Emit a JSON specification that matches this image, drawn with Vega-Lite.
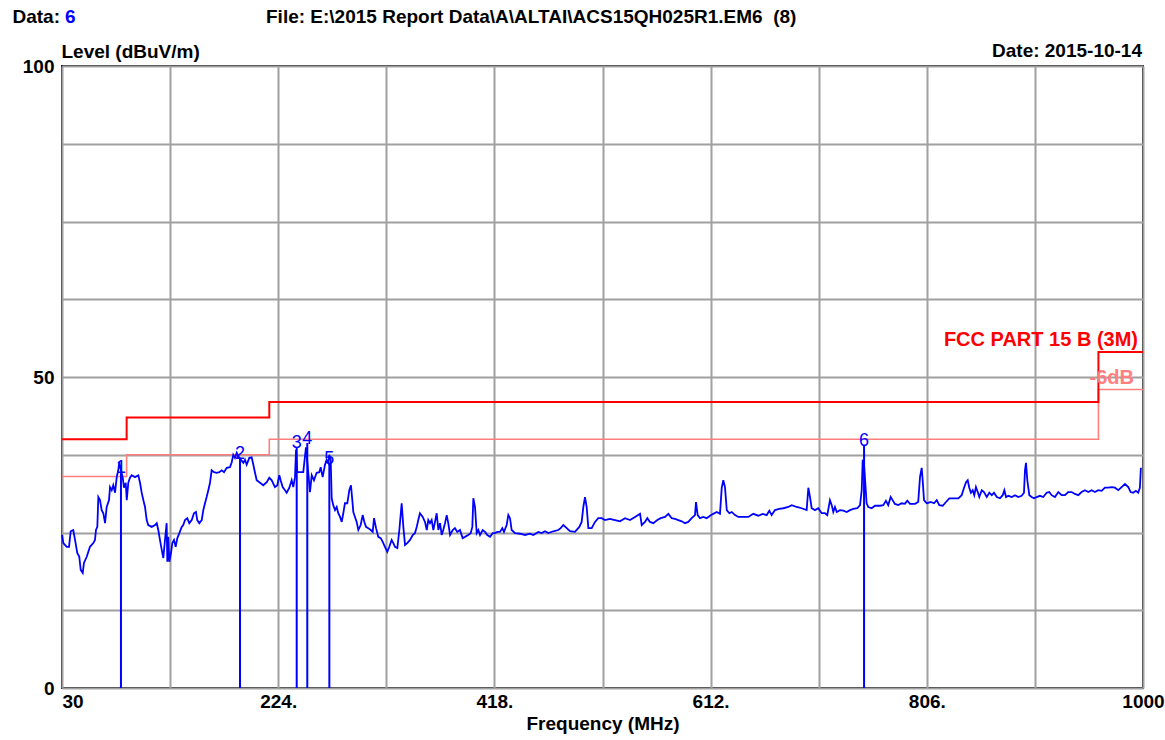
{
"$schema":"https://vega.github.io/schema/vega-lite/v6.json",
"width":1081,"height":622,
"autosize":{"type":"none"},
"padding":{"left":62,"top":66,"right":22,"bottom":52},
"background":"white",
"config":{"view":{"stroke":"#1a1a1a","strokeWidth":2},"font":"Liberation Sans","text":{"font":"Liberation Sans"}},
"datasets":{
"limit":[{"freq":30,"level":40},{"freq":88,"level":43.5},{"freq":216,"level":46},{"freq":960,"level":54},{"freq":1000,"level":54}],
"limit6":[{"freq":30,"level":34},{"freq":88,"level":37.5},{"freq":216,"level":40},{"freq":960,"level":48},{"freq":1000,"level":48}],
"markers":[{"id":"1","freq":82.9,"level":34.8},{"id":"2","freq":189.7,"level":37.0},{"id":"3","freq":240.6,"level":38.7},{"id":"4","freq":250.1,"level":39.4},{"id":"5","freq":269.9,"level":36.2},{"id":"6","freq":749.7,"level":39.1}],
"one":[{}],
"spectrum":[
{"freq":30.0,"level":24.6},{"freq":31.2,"level":23.3},{"freq":34.2,"level":22.7},{"freq":36.3,"level":22.7},{"freq":37.8,"level":25.2},{"freq":40.1,"level":25.4},{"freq":41.7,"level":23.8},{"freq":43.7,"level":21.7},{"freq":45.5,"level":21.1},{"freq":46.8,"level":19.0},{"freq":48.6,"level":18.5},{"freq":49.7,"level":20.1},{"freq":52.2,"level":21.1},{"freq":55.1,"level":22.7},{"freq":58.1,"level":23.3},{"freq":59.6,"level":23.8},{"freq":60.5,"level":25.4},{"freq":61.7,"level":25.9},{"freq":62.6,"level":30.7},{"freq":64.1,"level":30.2},{"freq":65.6,"level":28.6},{"freq":67.1,"level":28.1},{"freq":68.6,"level":26.5},{"freq":70.1,"level":29.1},{"freq":72.2,"level":30.2},{"freq":73.1,"level":32.3},{"freq":74.6,"level":31.8},{"freq":76.0,"level":32.6},{"freq":77.6,"level":31.4},{"freq":79.1,"level":33.9},{"freq":80.5,"level":35.0},{"freq":81.4,"level":36.3},{"freq":82.9,"level":35.0},{"freq":84.5,"level":33.8},{"freq":85.6,"level":32.2},{"freq":87.2,"level":33.0},{"freq":88.1,"level":30.2},{"freq":89.5,"level":33.0},{"freq":91.0,"level":33.8},{"freq":92.5,"level":34.2},{"freq":95.5,"level":33.9},{"freq":98.5,"level":34.2},{"freq":100.0,"level":33.0},{"freq":101.5,"level":31.4},{"freq":103.0,"level":30.2},{"freq":104.5,"level":29.1},{"freq":106.0,"level":27.0},{"freq":107.4,"level":26.2},{"freq":110.5,"level":25.9},{"freq":113.5,"level":26.2},{"freq":115.0,"level":26.5},{"freq":116.4,"level":25.4},{"freq":117.9,"level":23.8},{"freq":119.5,"level":22.2},{"freq":120.9,"level":20.9},{"freq":122.4,"level":23.8},{"freq":123.9,"level":26.5},{"freq":124.5,"level":20.3},{"freq":125.4,"level":24.3},{"freq":126.3,"level":20.3},{"freq":127.8,"level":21.7},{"freq":129.0,"level":23.3},{"freq":130.5,"level":23.8},{"freq":132.0,"level":22.7},{"freq":133.5,"level":24.1},{"freq":135.3,"level":24.9},{"freq":137.4,"level":25.9},{"freq":138.8,"level":26.2},{"freq":140.4,"level":27.0},{"freq":142.4,"level":27.3},{"freq":144.2,"level":26.5},{"freq":146.4,"level":27.0},{"freq":148.4,"level":28.1},{"freq":150.2,"level":28.3},{"freq":151.4,"level":27.0},{"freq":153.2,"level":26.5},{"freq":155.4,"level":27.0},{"freq":156.8,"level":28.6},{"freq":158.3,"level":29.7},{"freq":159.8,"level":30.7},{"freq":161.3,"level":31.8},{"freq":162.8,"level":33.0},{"freq":164.3,"level":35.0},{"freq":166.4,"level":34.7},{"freq":168.8,"level":34.6},{"freq":171.1,"level":34.7},{"freq":173.3,"level":35.0},{"freq":175.4,"level":34.7},{"freq":177.8,"level":35.4},{"freq":180.7,"level":35.5},{"freq":182.3,"level":36.3},{"freq":183.7,"level":37.5},{"freq":185.2,"level":37.0},{"freq":186.8,"level":37.8},{"freq":188.8,"level":37.1},{"freq":190.6,"level":36.7},{"freq":192.7,"level":36.2},{"freq":194.2,"level":36.7},{"freq":195.7,"level":35.9},{"freq":198.1,"level":37.0},{"freq":200.2,"level":37.1},{"freq":201.7,"level":35.9},{"freq":203.2,"level":34.6},{"freq":204.7,"level":33.4},{"freq":207.7,"level":33.0},{"freq":210.6,"level":32.6},{"freq":213.7,"level":33.1},{"freq":216.0,"level":33.8},{"freq":218.2,"level":33.4},{"freq":221.1,"level":32.3},{"freq":223.2,"level":32.6},{"freq":225.0,"level":34.2},{"freq":226.2,"level":33.4},{"freq":228.0,"level":32.3},{"freq":230.1,"level":31.8},{"freq":231.6,"level":31.4},{"freq":234.0,"level":32.2},{"freq":236.1,"level":33.4},{"freq":237.5,"level":32.3},{"freq":239.1,"level":33.9},{"freq":240.0,"level":38.3},{"freq":241.1,"level":34.7},{"freq":242.9,"level":34.7},{"freq":246.5,"level":34.7},{"freq":248.9,"level":38.7},{"freq":251.0,"level":34.6},{"freq":252.5,"level":31.5},{"freq":254.1,"level":34.2},{"freq":256.1,"level":33.4},{"freq":258.5,"level":34.6},{"freq":260.9,"level":34.7},{"freq":262.1,"level":35.5},{"freq":263.9,"level":33.9},{"freq":266.0,"level":35.9},{"freq":267.5,"level":36.7},{"freq":269.0,"level":36.2},{"freq":269.8,"level":37.5},{"freq":271.1,"level":36.7},{"freq":272.0,"level":30.5},{"freq":273.4,"level":29.4},{"freq":275.0,"level":28.6},{"freq":276.5,"level":29.1},{"freq":277.9,"level":28.1},{"freq":279.5,"level":27.5},{"freq":281.0,"level":26.7},{"freq":282.4,"level":28.1},{"freq":283.9,"level":29.7},{"freq":286.0,"level":29.7},{"freq":287.8,"level":31.8},{"freq":289.3,"level":32.6},{"freq":290.5,"level":30.2},{"freq":291.4,"level":28.3},{"freq":292.9,"level":27.5},{"freq":294.4,"level":26.7},{"freq":295.9,"level":25.4},{"freq":298.0,"level":26.2},{"freq":299.8,"level":27.8},{"freq":301.3,"level":26.7},{"freq":302.8,"level":25.9},{"freq":304.8,"level":25.7},{"freq":307.0,"level":25.4},{"freq":308.8,"level":25.1},{"freq":310.0,"level":27.3},{"freq":311.8,"level":25.7},{"freq":313.8,"level":24.3},{"freq":316.0,"level":24.1},{"freq":317.8,"level":23.5},{"freq":319.8,"level":22.7},{"freq":321.9,"level":21.9},{"freq":323.7,"level":22.7},{"freq":325.8,"level":23.8},{"freq":327.3,"level":23.3},{"freq":328.8,"level":22.7},{"freq":330.9,"level":22.5},{"freq":332.7,"level":25.4},{"freq":334.8,"level":29.7},{"freq":336.3,"level":25.9},{"freq":337.8,"level":23.0},{"freq":339.8,"level":23.3},{"freq":342.3,"level":23.8},{"freq":344.7,"level":24.6},{"freq":346.7,"level":24.9},{"freq":348.3,"level":25.9},{"freq":349.7,"level":27.0},{"freq":351.2,"level":28.1},{"freq":353.7,"level":27.5},{"freq":355.7,"level":26.7},{"freq":357.3,"level":25.4},{"freq":358.7,"level":27.0},{"freq":360.2,"level":26.5},{"freq":361.7,"level":27.0},{"freq":363.2,"level":25.4},{"freq":364.7,"level":26.7},{"freq":366.2,"level":28.1},{"freq":367.7,"level":25.4},{"freq":369.2,"level":26.5},{"freq":370.7,"level":24.6},{"freq":372.1,"level":25.4},{"freq":373.7,"level":26.5},{"freq":375.2,"level":27.8},{"freq":376.6,"level":26.5},{"freq":378.2,"level":24.6},{"freq":380.6,"level":25.4},{"freq":382.6,"level":25.7},{"freq":384.7,"level":25.1},{"freq":387.1,"level":25.4},{"freq":389.5,"level":24.1},{"freq":391.6,"level":24.3},{"freq":394.5,"level":24.6},{"freq":396.7,"level":24.9},{"freq":398.2,"level":25.9},{"freq":399.1,"level":30.5},{"freq":400.6,"level":29.1},{"freq":402.1,"level":24.9},{"freq":403.6,"level":25.4},{"freq":405.1,"level":24.6},{"freq":407.5,"level":25.4},{"freq":409.6,"level":25.1},{"freq":411.6,"level":24.6},{"freq":414.1,"level":24.3},{"freq":416.5,"level":24.9},{"freq":418.5,"level":24.9},{"freq":420.6,"level":25.1},{"freq":423.0,"level":25.1},{"freq":425.1,"level":25.7},{"freq":426.6,"level":25.1},{"freq":429.0,"level":26.2},{"freq":430.5,"level":27.8},{"freq":432.0,"level":27.3},{"freq":433.5,"level":25.4},{"freq":436.5,"level":24.9},{"freq":441.0,"level":24.8},{"freq":445.5,"level":24.6},{"freq":449.9,"level":24.8},{"freq":452.9,"level":24.6},{"freq":457.4,"level":25.1},{"freq":460.4,"level":24.9},{"freq":463.4,"level":25.2},{"freq":466.4,"level":24.9},{"freq":470.9,"level":25.2},{"freq":475.3,"level":25.4},{"freq":477.5,"level":25.7},{"freq":479.8,"level":26.2},{"freq":482.9,"level":25.7},{"freq":485.8,"level":25.2},{"freq":490.3,"level":25.1},{"freq":494.2,"level":25.9},{"freq":496.3,"level":26.7},{"freq":497.8,"level":29.1},{"freq":499.3,"level":30.7},{"freq":500.8,"level":29.1},{"freq":502.3,"level":25.7},{"freq":505.3,"level":25.7},{"freq":508.3,"level":26.7},{"freq":511.2,"level":27.3},{"freq":514.3,"level":27.3},{"freq":517.2,"level":27.0},{"freq":521.7,"level":27.2},{"freq":526.2,"level":27.0},{"freq":530.7,"level":26.8},{"freq":535.2,"level":27.3},{"freq":539.7,"level":27.0},{"freq":544.2,"level":27.5},{"freq":548.7,"level":28.0},{"freq":550.2,"level":26.2},{"freq":553.1,"level":26.7},{"freq":555.2,"level":27.3},{"freq":557.6,"level":26.7},{"freq":560.6,"level":26.5},{"freq":564.2,"level":27.0},{"freq":567.2,"level":27.3},{"freq":571.1,"level":27.5},{"freq":574.1,"level":28.0},{"freq":577.1,"level":27.3},{"freq":580.1,"level":27.2},{"freq":583.0,"level":27.0},{"freq":586.1,"level":26.8},{"freq":589.0,"level":26.5},{"freq":592.0,"level":26.7},{"freq":595.0,"level":27.3},{"freq":598.0,"level":27.8},{"freq":598.9,"level":29.9},{"freq":600.4,"level":27.8},{"freq":602.5,"level":27.3},{"freq":605.4,"level":27.5},{"freq":608.5,"level":27.3},{"freq":611.5,"level":27.7},{"freq":614.4,"level":28.0},{"freq":617.5,"level":28.3},{"freq":620.4,"level":28.0},{"freq":622.0,"level":32.2},{"freq":623.4,"level":33.4},{"freq":624.9,"level":32.3},{"freq":626.5,"level":28.6},{"freq":628.8,"level":28.1},{"freq":631.0,"level":28.3},{"freq":633.9,"level":27.8},{"freq":636.9,"level":27.5},{"freq":641.3,"level":27.5},{"freq":645.8,"level":27.5},{"freq":650.3,"level":28.0},{"freq":654.8,"level":27.7},{"freq":658.7,"level":28.0},{"freq":662.3,"level":27.8},{"freq":664.7,"level":28.5},{"freq":666.8,"level":27.8},{"freq":669.8,"level":28.6},{"freq":673.6,"level":28.8},{"freq":677.2,"level":28.9},{"freq":681.7,"level":29.1},{"freq":684.8,"level":29.4},{"freq":689.2,"level":29.1},{"freq":693.7,"level":28.9},{"freq":698.2,"level":28.6},{"freq":699.7,"level":32.2},{"freq":701.2,"level":30.7},{"freq":702.7,"level":28.9},{"freq":705.7,"level":28.6},{"freq":708.6,"level":28.9},{"freq":711.7,"level":28.1},{"freq":714.6,"level":28.1},{"freq":716.7,"level":27.8},{"freq":719.1,"level":30.2},{"freq":720.7,"level":29.4},{"freq":722.1,"level":28.3},{"freq":723.6,"level":29.1},{"freq":725.2,"level":28.3},{"freq":728.1,"level":28.6},{"freq":731.1,"level":28.5},{"freq":734.1,"level":28.3},{"freq":737.1,"level":28.6},{"freq":740.1,"level":28.8},{"freq":743.6,"level":28.9},{"freq":746.1,"level":29.4},{"freq":747.6,"level":31.8},{"freq":748.5,"level":36.7},{"freq":749.6,"level":36.2},{"freq":750.5,"level":33.8},{"freq":752.0,"level":29.7},{"freq":753.5,"level":29.1},{"freq":756.5,"level":28.9},{"freq":759.5,"level":29.3},{"freq":764.0,"level":29.3},{"freq":766.9,"level":29.4},{"freq":769.3,"level":30.1},{"freq":771.4,"level":29.4},{"freq":773.6,"level":30.7},{"freq":775.3,"level":30.2},{"freq":777.4,"level":29.6},{"freq":780.4,"level":29.4},{"freq":783.4,"level":29.7},{"freq":786.4,"level":29.6},{"freq":788.5,"level":30.1},{"freq":790.9,"level":29.6},{"freq":795.4,"level":29.6},{"freq":798.3,"level":29.9},{"freq":799.9,"level":33.9},{"freq":801.4,"level":35.4},{"freq":802.3,"level":33.4},{"freq":803.5,"level":30.2},{"freq":805.9,"level":29.7},{"freq":809.5,"level":29.9},{"freq":812.5,"level":29.7},{"freq":814.9,"level":30.2},{"freq":817.2,"level":29.4},{"freq":820.3,"level":29.3},{"freq":823.2,"level":29.9},{"freq":826.2,"level":30.5},{"freq":829.8,"level":30.5},{"freq":834.3,"level":30.5},{"freq":837.3,"level":31.0},{"freq":839.4,"level":32.2},{"freq":841.2,"level":33.1},{"freq":842.7,"level":33.4},{"freq":844.1,"level":32.2},{"freq":845.6,"level":31.4},{"freq":847.2,"level":31.8},{"freq":848.6,"level":31.0},{"freq":850.1,"level":32.3},{"freq":851.7,"level":31.5},{"freq":853.1,"level":30.7},{"freq":855.3,"level":31.8},{"freq":857.3,"level":31.5},{"freq":859.8,"level":30.7},{"freq":862.1,"level":31.4},{"freq":864.3,"level":31.0},{"freq":866.3,"level":31.4},{"freq":868.8,"level":30.7},{"freq":871.7,"level":30.5},{"freq":874.1,"level":31.0},{"freq":875.6,"level":31.8},{"freq":877.1,"level":30.7},{"freq":879.2,"level":30.9},{"freq":882.2,"level":30.7},{"freq":885.1,"level":31.0},{"freq":888.1,"level":30.7},{"freq":891.1,"level":30.9},{"freq":893.2,"level":31.4},{"freq":894.1,"level":35.0},{"freq":895.0,"level":36.2},{"freq":896.2,"level":33.4},{"freq":898.0,"level":31.0},{"freq":900.1,"level":30.7},{"freq":902.2,"level":30.5},{"freq":904.6,"level":30.7},{"freq":907.5,"level":30.9},{"freq":910.5,"level":30.7},{"freq":913.5,"level":31.4},{"freq":915.9,"level":31.5},{"freq":918.0,"level":31.0},{"freq":921.0,"level":30.7},{"freq":924.0,"level":31.5},{"freq":927.0,"level":31.0},{"freq":930.0,"level":31.0},{"freq":932.9,"level":31.5},{"freq":936.0,"level":31.5},{"freq":938.9,"level":31.2},{"freq":941.9,"level":31.0},{"freq":944.9,"level":31.5},{"freq":947.9,"level":31.8},{"freq":950.9,"level":31.5},{"freq":953.9,"level":31.8},{"freq":956.9,"level":31.5},{"freq":959.8,"level":31.8},{"freq":962.9,"level":31.7},{"freq":965.8,"level":32.2},{"freq":968.9,"level":32.2},{"freq":971.9,"level":32.3},{"freq":974.8,"level":32.2},{"freq":977.8,"level":31.8},{"freq":980.8,"level":32.3},{"freq":983.8,"level":32.8},{"freq":986.8,"level":32.3},{"freq":988.9,"level":31.5},{"freq":991.2,"level":31.4},{"freq":993.6,"level":31.7},{"freq":995.7,"level":31.4},{"freq":997.2,"level":32.2},{"freq":998.1,"level":35.4}
]},
"layer":[
{"data":{"name":"limit6"},"mark":{"type":"line","interpolate":"step-after","color":"#ff7f7f","strokeWidth":1.6},
 "encoding":{
  "x":{"field":"freq","type":"quantitative","scale":{"domain":[30,1000],"nice":false,"zero":false},
   "axis":{"values":[30,127,224,321,418,515,612,709,806,903,1000],
    "labelExpr":"datum.value == 30 ? '30' : datum.value == 1000 ? '1000' : (datum.value == 224 || datum.value == 418 || datum.value == 612 || datum.value == 806) ? datum.value + '.' : ''",
    "labelAlign":{"condition":{"test":"datum.value == 30","value":"left"},"value":"center"},
    "labelFlush":false,"labelOverlap":false,"labelBound":false,
    "ticks":false,"domain":false,"grid":true,"gridColor":"#a0a0a0","gridWidth":2,
    "labelFont":"Liberation Sans","labelFontWeight":"bold","labelFontSize":19,"labelColor":"#000","labelPadding":4,
    "title":"Frequency (MHz)","titleFont":"Liberation Sans","titleFontSize":19,"titleFontWeight":"bold","titleColor":"#000","titlePadding":3}},
  "y":{"field":"level","type":"quantitative","scale":{"domain":[0,100],"nice":false,"zero":true},
   "axis":{"values":[0,12.5,25,37.5,50,62.5,75,87.5,100],
    "labelExpr":"(datum.value == 0 || datum.value == 50 || datum.value == 100) ? datum.label : ''",
    "labelOverlap":false,"labelBound":false,"labelFlush":false,
    "ticks":false,"domain":false,"grid":true,"gridColor":"#a0a0a0","gridWidth":2,
    "labelFont":"Liberation Sans","labelFontWeight":"bold","labelFontSize":19,"labelColor":"#000","labelPadding":8,
    "title":"Level (dBuV/m)","titleFont":"Liberation Sans","titleFontSize":19,"titleFontWeight":"bold","titleColor":"#000",
    "titleAngle":0,"titleAlign":"left","titleBaseline":"alphabetic","titleX":-1,"titleY":-9}}}},
{"data":{"name":"limit"},"mark":{"type":"line","interpolate":"step-after","color":"#ff0000","strokeWidth":2},
 "encoding":{"x":{"field":"freq","type":"quantitative"},"y":{"field":"level","type":"quantitative"}}},
{"data":{"name":"spectrum"},"mark":{"type":"line","color":"#0000ff","strokeWidth":1.8},
 "encoding":{"x":{"field":"freq","type":"quantitative"},"y":{"field":"level","type":"quantitative"}}},
{"data":{"name":"markers"},"mark":{"type":"rule","color":"#0000ff","strokeWidth":2},
 "encoding":{"x":{"field":"freq","type":"quantitative"},"y":{"field":"level","type":"quantitative"},"y2":{"datum":0}}},
{"data":{"name":"markers"},"mark":{"type":"text","color":"#0000ff","fontSize":18,"font":"Liberation Sans","baseline":"alphabetic","align":"center","dy":1},
 "encoding":{"x":{"field":"freq","type":"quantitative"},"y":{"field":"level","type":"quantitative"},"text":{"field":"id"}}},
{"data":{"name":"one"},"mark":{"type":"text","text":"FCC PART 15 B (3M)","color":"#ff0000","fontSize":20,"fontWeight":"bold","align":"right","baseline":"alphabetic","dx":-5,"dy":-6},
 "encoding":{"x":{"datum":1000},"y":{"datum":54}}},
{"data":{"name":"one"},"mark":{"type":"text","text":"-6dB","color":"#ff7f7f","fontSize":20,"fontWeight":"bold","align":"right","baseline":"alphabetic","dx":-9,"dy":-5},
 "encoding":{"x":{"datum":1000},"y":{"datum":48}}},
{"data":{"name":"one"},"mark":{"type":"text","text":"Date: 2015-10-14","color":"#000","fontSize":19,"fontWeight":"bold","align":"right","baseline":"alphabetic","dx":-1,"dy":-9},
 "encoding":{"x":{"datum":1000},"y":{"datum":100}}},
{"data":{"name":"one"},"mark":{"type":"text","text":"Data:","color":"#000","fontSize":19,"fontWeight":"bold","align":"right","baseline":"alphabetic","dx":-2,"dy":-43},
 "encoding":{"x":{"datum":30},"y":{"datum":100}}},
{"data":{"name":"one"},"mark":{"type":"text","text":"6","color":"#0000ff","fontSize":19,"fontWeight":"bold","align":"left","baseline":"alphabetic","dx":3,"dy":-43},
 "encoding":{"x":{"datum":30},"y":{"datum":100}}},
{"data":{"name":"one"},"mark":{"type":"text","text":"File: E:\\2015 Report Data\\A\\ALTAI\\ACS15QH025R1.EM6\u00a0\u00a0(8)","color":"#000","fontSize":19,"fontWeight":"bold","align":"left","baseline":"alphabetic","dx":204,"dy":-43},
 "encoding":{"x":{"datum":30},"y":{"datum":100}}}
]
}
